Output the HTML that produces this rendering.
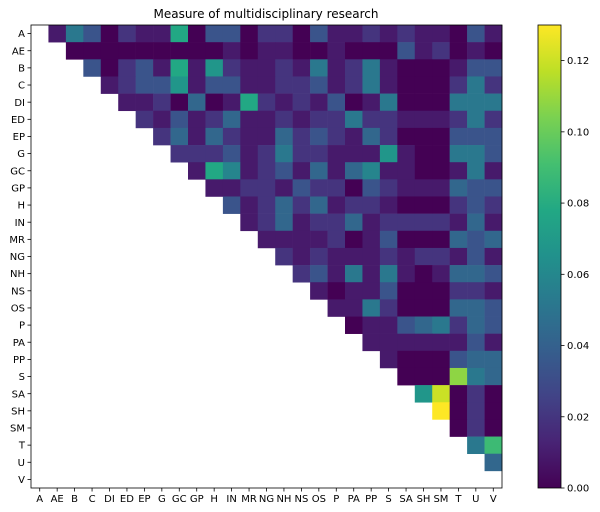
<!DOCTYPE html>
<html><head><meta charset="utf-8"><style>
html,body{margin:0;padding:0;background:#fff;}
svg{display:block;font-family:"DejaVu Sans","Liberation Sans",sans-serif;}
</style></head><body>
<svg id="s" width="600" height="512" xmlns="http://www.w3.org/2000/svg">
<defs><linearGradient id="vg" x1="0" y1="1" x2="0" y2="0">
<stop offset="0" stop-color="#440154"/><stop offset="0.1" stop-color="#482475"/><stop offset="0.2" stop-color="#414487"/><stop offset="0.3" stop-color="#355f8d"/><stop offset="0.4" stop-color="#2a788e"/><stop offset="0.5" stop-color="#21918c"/><stop offset="0.6" stop-color="#22a884"/><stop offset="0.7" stop-color="#44bf70"/><stop offset="0.8" stop-color="#7ad151"/><stop offset="0.9" stop-color="#bddf26"/><stop offset="1" stop-color="#fde725"/>
</linearGradient></defs>
<text x="266" y="18" font-size="12" text-anchor="middle">Measure of multidisciplinary research</text>
<g id="cells"></g>
<rect x="31" y="25" width="471" height="463" fill="none" stroke="#000" stroke-width="0.8"/>
<g id="ax" font-size="10"></g>
<rect x="538" y="25" width="23" height="463" fill="url(#vg)" stroke="#000" stroke-width="0.8"/>
</svg>
<script>
var labels=["A","AE","B","C","DI","ED","EP","G","GC","GP","H","IN","MR","NG","NH","NS","OS","P","PA","PP","S","SA","SH","SM","T","U","V"];
var data=["14302116033022031121211031","0000000001011001000312010","302316152112141241000133","12335133112231241000242","1120a01621213014000444","21312a112122422111242","2a1a211a2321a2000333","2223124221115100443","16b1231a1ab1100141","11221322032111a33","312a2a1221000232","12a122a122221a1","11112013000a3a","2121112122131","231414101aa3","10113000221","1142000aa3","0113a42a3","11111131","10003aa","00084a","59020","Y020","020","47","a",""];
var cv={"0":0,"1":0.07,"2":0.15,"3":0.26,"a":0.33,"4":0.40,"b":0.45,"5":0.52,"6":0.60,"7":0.68,"8":0.83,"9":0.92,"Y":1};
var vir=[[68,1,84],[72,36,117],[65,68,135],[53,95,141],[42,120,142],[33,145,140],[34,168,132],[68,191,112],[122,209,81],[189,223,38],[253,231,37]];
function col(t){var f=t*10,i=Math.min(9,Math.floor(f)),r=f-i,a=vir[i],b=vir[i+1];return "rgb("+[0,1,2].map(function(k){return Math.round(a[k]+(b[k]-a[k])*r)}).join(",")+")";}
var NS="http://www.w3.org/2000/svg",cw=471/27,ch=463/27,x0=31,y0=25,h="";
for(var i=0;i<27;i++){var s=data[i];for(var k=0;k<s.length;k++){var j=i+1+k;
h+='<rect x="'+(x0+j*cw).toFixed(2)+'" y="'+(y0+i*ch).toFixed(2)+'" width="'+(cw+0.3).toFixed(2)+'" height="'+(ch+0.3).toFixed(2)+'" fill="'+col(cv[s[k]])+'"/>';}}
document.getElementById("cells").innerHTML=h;
var a="";
for(var i=0;i<27;i++){var y=y0+(i+0.5)*ch,x=x0+(i+0.5)*cw;
a+='<line x1="27.5" x2="31" y1="'+y+'" y2="'+y+'" stroke="#000" stroke-width="0.8"/>';
a+='<text x="25" y="'+(y+3.6)+'" text-anchor="end">'+labels[i]+'</text>';
a+='<line x1="'+x+'" x2="'+x+'" y1="488" y2="491.5" stroke="#000" stroke-width="0.8"/>';
a+='<text x="'+x+'" y="502" text-anchor="middle">'+labels[i]+'</text>';}
for(var v=0;v<=6;v++){var y=488-(v*0.02)/0.13*463;
a+='<line x1="561" x2="564.5" y1="'+y+'" y2="'+y+'" stroke="#000" stroke-width="0.8"/>';
a+='<text x="567" y="'+(y+3.6)+'">'+(v*0.02).toFixed(2)+'</text>';}
document.getElementById("ax").innerHTML=a;
</script>
</body></html>
